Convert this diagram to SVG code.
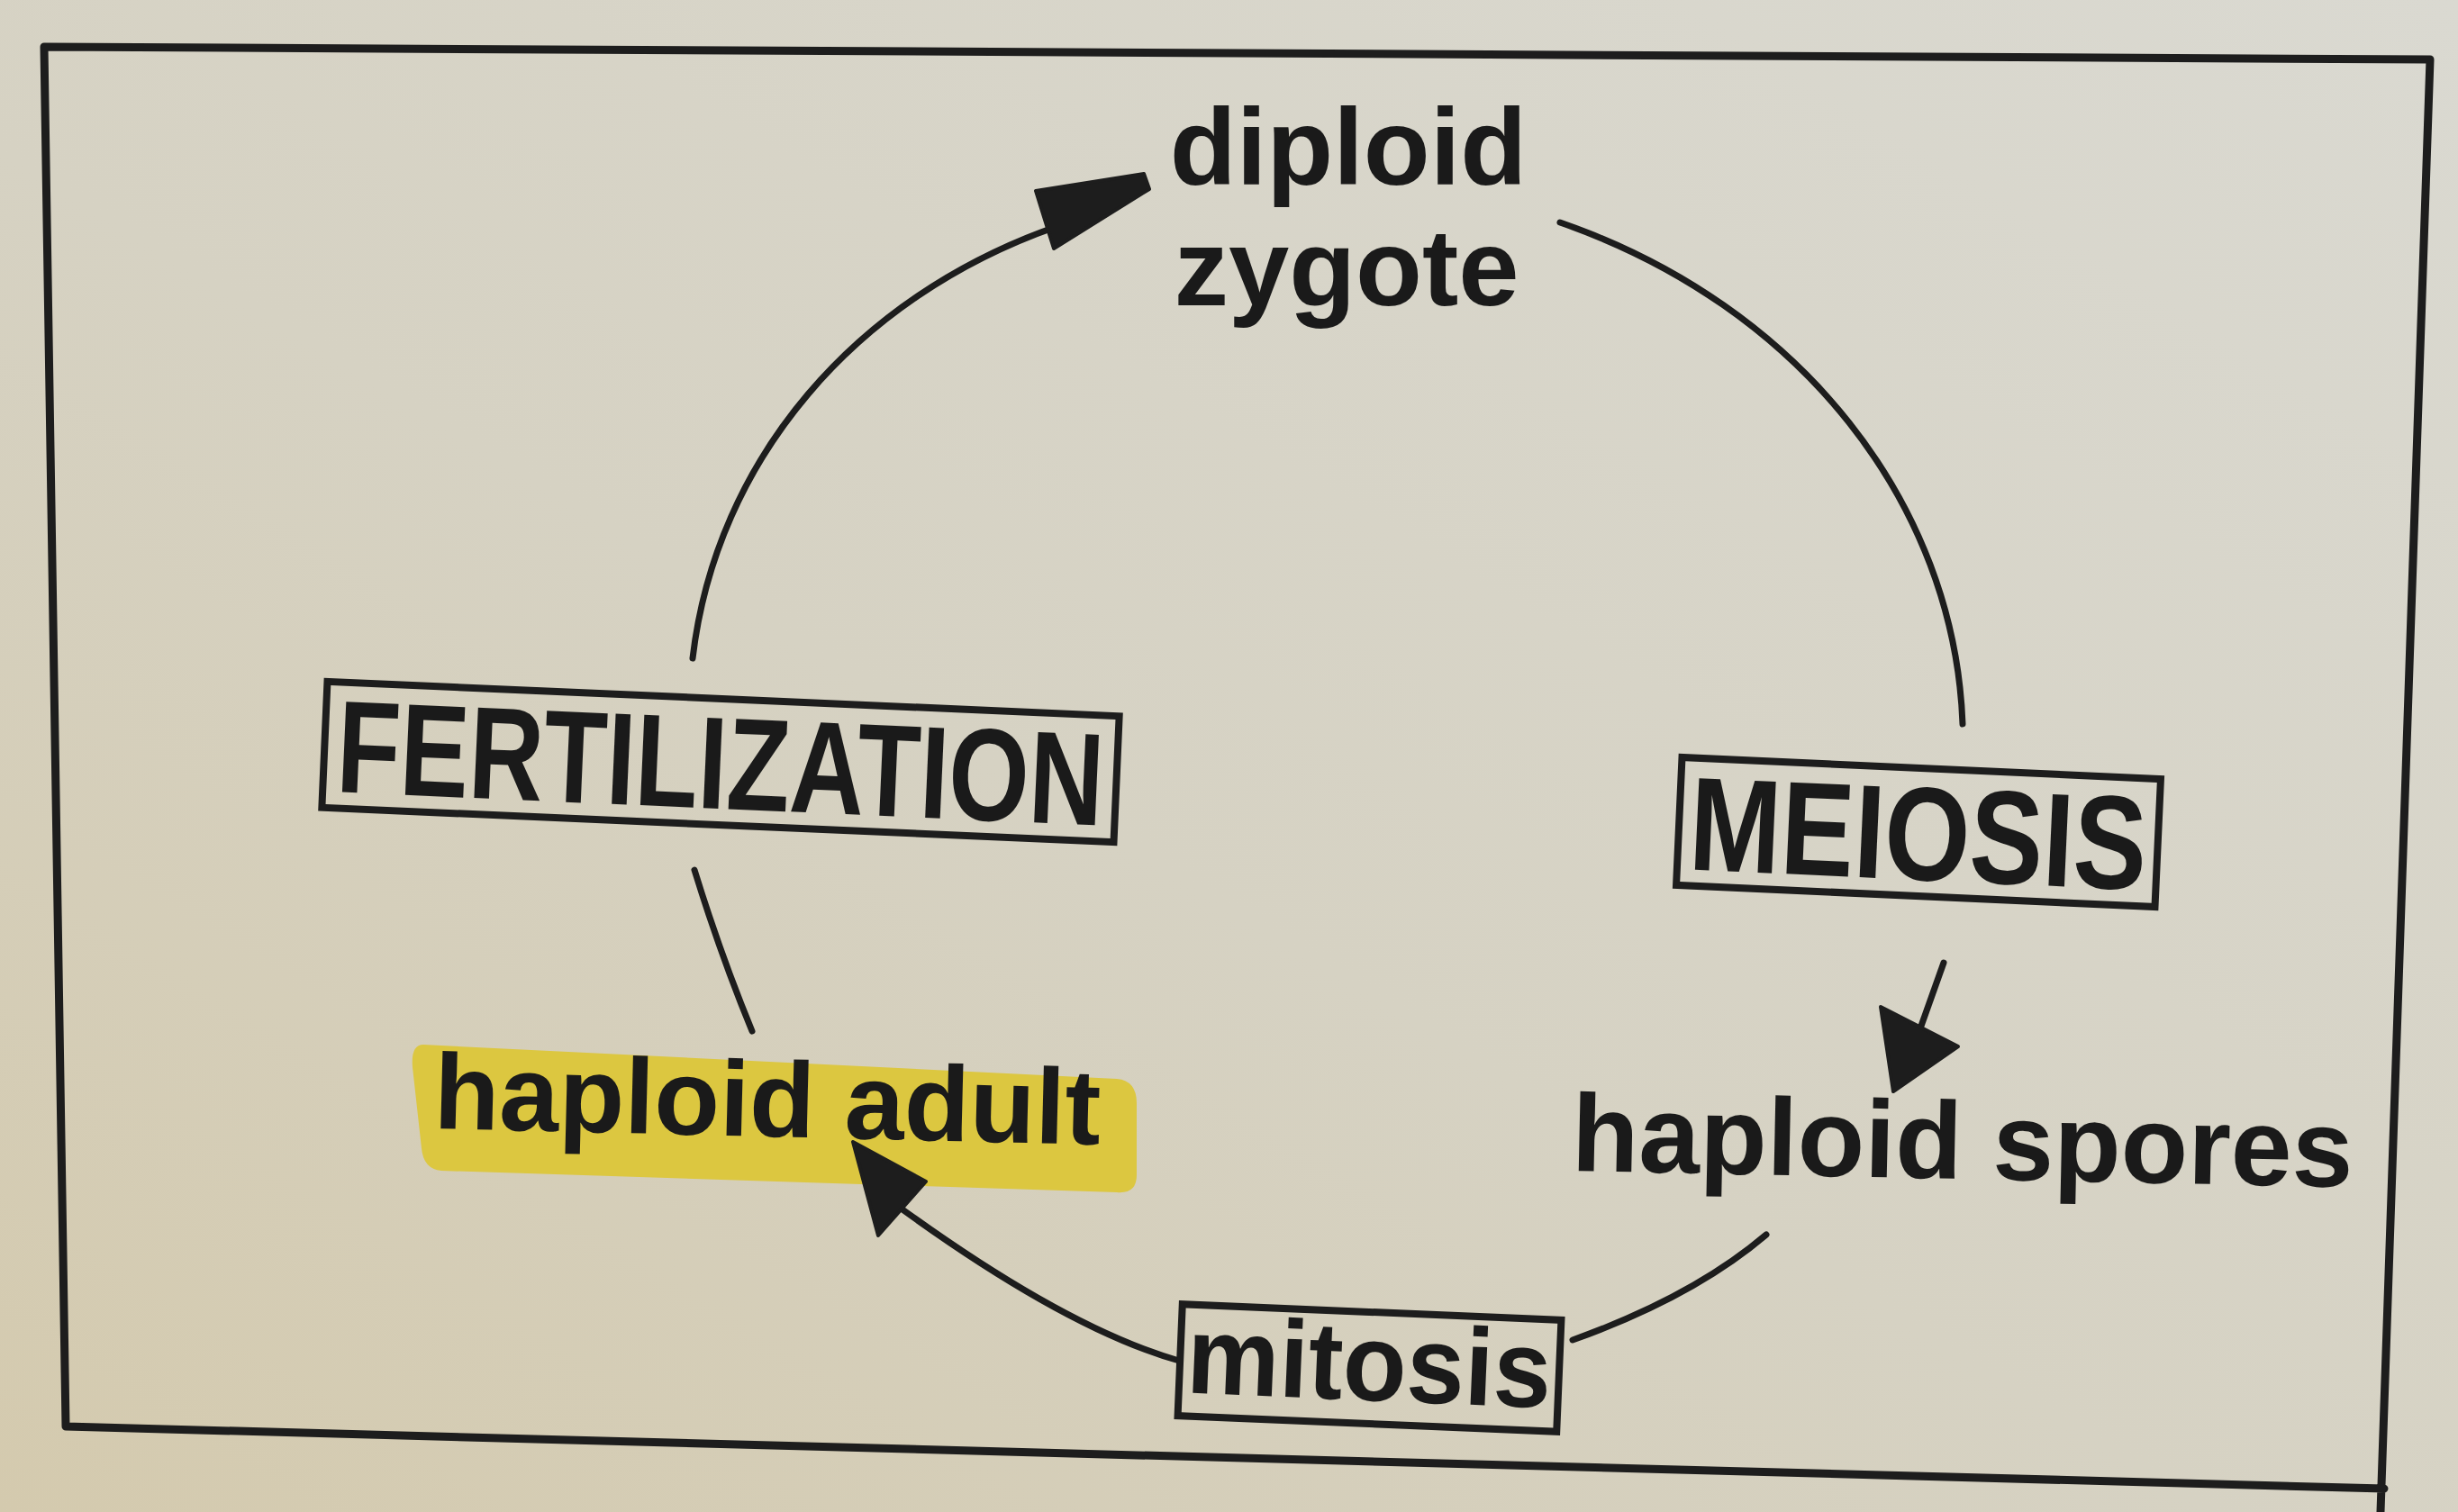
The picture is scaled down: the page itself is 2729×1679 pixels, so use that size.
<svg xmlns="http://www.w3.org/2000/svg" width="2729" height="1679" viewBox="0 0 2729 1679">
  <defs>
    <linearGradient id="paper" x1="1" y1="0" x2="0" y2="1">
      <stop offset="0" stop-color="#dad9d1"/>
      <stop offset="0.55" stop-color="#d6d2c3"/>
      <stop offset="1" stop-color="#d4caae"/>
    </linearGradient>
    <style>
      .ink { fill: none; stroke: #1d1d1d; stroke-linecap: round; stroke-linejoin: round; }
      .frame { stroke-width: 9; }
      .box { fill: none; stroke: #1d1d1d; stroke-width: 8; }
      .conn { stroke-width: 7; }
      .head { fill: #1d1d1d; stroke: #1d1d1d; stroke-width: 4; stroke-linejoin: round; }
      .lbl { font-family: "Liberation Sans", Arial, sans-serif; font-weight: bold; fill: #1a1a1a; text-anchor: middle; }
    </style>
  </defs>

  <rect x="0" y="0" width="2729" height="1679" fill="url(#paper)"/>

  <!-- outer frame -->
  <path class="ink frame" d="M 49 52 L 2698 66 L 2643 1679 M 73 1584 L 2647 1653 M 49 52 L 73 1584"/>

  <g id="haploid-adult">
    <path d="M 470 1160 L 1240 1198 Q 1262 1200 1262 1225 L 1262 1305 Q 1262 1326 1240 1324 L 490 1300 Q 470 1298 468 1275 L 458 1185 Q 456 1160 470 1160 Z" fill="#dcc740"/>
    <g transform="translate(851,1262) rotate(1.4)">
      <text class="lbl" x="0" y="0" font-size="119">haploid adult</text>
    </g>
  </g>

  <!-- connectors -->
  <g id="connectors">
    <path class="ink conn" d="M 769 731 C 795 510, 950 330, 1172 252"/>
    <polygon class="head" points="1150,212 1270,193 1276,210 1170,276"/>

    <path class="ink conn" d="M 1732 247 C 2000 340, 2170 560, 2179 804"/>

    <path class="ink conn" d="M 2158 1069 L 2132 1142"/>
    <polygon class="head" points="2088,1118 2174,1162 2102,1212"/>

    <path class="ink conn" d="M 1961 1371 Q 1880 1440 1746 1488"/>

    <path class="ink conn" d="M 1309 1511 C 1200 1480, 1080 1400, 995 1338"/>
    <polygon class="head" points="947,1268 1028,1312 975,1372"/>

    <path class="ink conn" d="M 771 966 Q 800 1060 835 1145"/>
  </g>

  <!-- nodes -->
  <g id="diploid-zygote">
    <text class="lbl" x="1497" y="205" font-size="121">diploid</text>
    <text class="lbl" x="1495" y="339" font-size="121">zygote</text>
  </g>

  <g id="fertilization" transform="translate(800,846) rotate(2.5)">
    <rect class="box" x="-440" y="-70" width="880" height="140"/>
    <text class="lbl" x="0" y="52" font-size="146" textLength="852" lengthAdjust="spacingAndGlyphs">FERTILIZATION</text>
  </g>

  <g id="meiosis" transform="translate(2130,924) rotate(2.6)">
    <rect class="box" x="-266" y="-71" width="532" height="142"/>
    <text class="lbl" x="0" y="53" font-size="148" textLength="508" lengthAdjust="spacingAndGlyphs">MEIOSIS</text>
  </g>

  <g id="haploid-spores" transform="translate(2178,1309) rotate(1.2)">
    <text class="lbl" x="0" y="0" font-size="122">haploid spores</text>
  </g>

  <g id="mitosis" transform="translate(1520,1519) rotate(2.4)">
    <rect class="box" x="-210" y="-62" width="421" height="124"/>
    <text class="lbl" x="0" y="36" font-size="122" textLength="405" lengthAdjust="spacingAndGlyphs">mitosis</text>
  </g>
</svg>
